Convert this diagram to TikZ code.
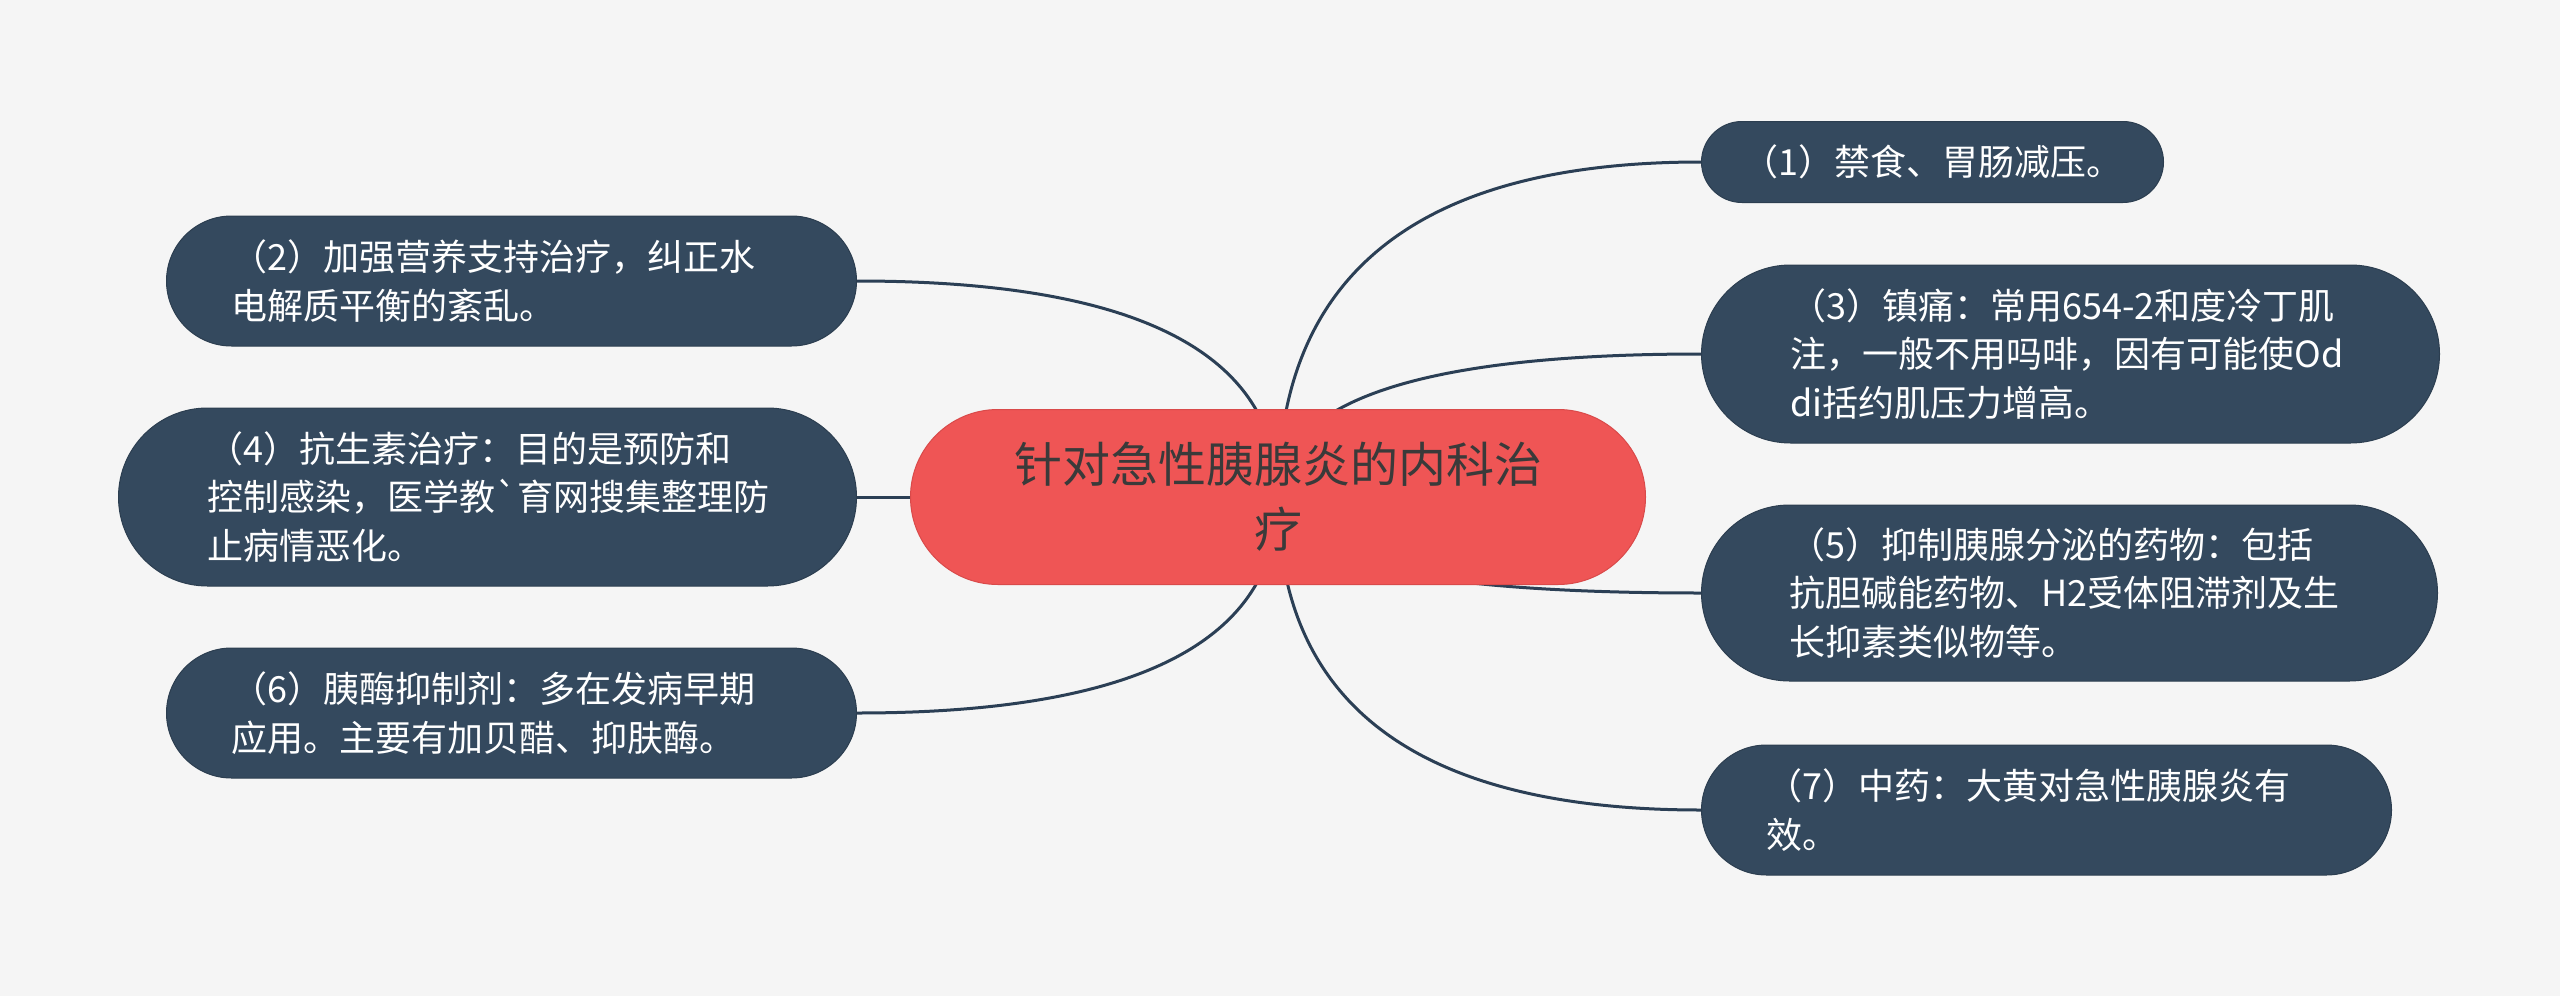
\documentclass[tikz,border=0pt]{standalone}
\usepackage{fontspec}
\newfontfamily\cjk{Noto Sans CJK SC}
\usetikzlibrary{calc,backgrounds}

\definecolor{bgcol}{HTML}{F5F5F5}
\definecolor{leafblue}{HTML}{34495E}
\definecolor{leafedge}{HTML}{2C3E50}
\definecolor{rootred}{HTML}{EF5555}
\definecolor{rootedge}{HTML}{D94A4A}
\definecolor{branchcol}{HTML}{2B3F55}
\definecolor{roottext}{HTML}{3A3A3A}

\tikzset{
  leaf/.style={draw=leafedge, line width=1pt, fill=leafblue, text=white,
    rounded corners=#1/2, minimum height=#1, minimum width=560+#1,
    align=left, inner sep=0pt, font=\cjk\fontsize{36}{48.5}\selectfont},
  wide/.style={text width=560pt},
  root/.style={draw=rootedge, line width=1pt, fill=rootred, text=roottext,
    rounded corners=87.5, minimum height=175, minimum width=735,
    text width=560pt, align=center, inner sep=0pt,
    font=\cjk\fontsize{48}{65}\selectfont},
  branch/.style={draw=branchcol, line width=3pt}
}

\begin{document}
\begin{tikzpicture}[x=1pt,y=-1pt]
\useasboundingbox (0,0) rectangle (2560,996);

% centre
\node[root] (c) at (1278,497) {针对急性胰腺炎的内科治\\疗};

% right side
\node[leaf=81, anchor=west, minimum width=462] (n1) at (1701,162) {（1）禁食、胃肠减压。};
\node[leaf=178, wide, anchor=west] (n3) at (1701,354) {（3）镇痛：常用654-2和度冷丁肌\\注，一般不用吗啡，因有可能使Od\\di括约肌压力增高。};
\node[leaf=176, wide, anchor=west] (n5) at (1701,593) {（5）抑制胰腺分泌的药物：包括\\抗胆碱能药物、H2受体阻滞剂及生\\长抑素类似物等。};
\node[leaf=130, wide, anchor=west] (n7) at (1701,810) {（7）中药：大黄对急性胰腺炎有\\效。};

% left side
\node[leaf=130, wide, anchor=east] (n2) at (857,281) {（2）加强营养支持治疗，纠正水\\电解质平衡的紊乱。};
\node[leaf=178, wide, anchor=east] (n4) at (857,497) {（4）抗生素治疗：目的是预防和\\控制感染，医学教\textasciigrave 育网搜集整理防\\止病情恶化。};
\node[leaf=130, wide, anchor=east] (n6) at (857,713) {（6）胰酶抑制剂：多在发病早期\\应用。主要有加贝醋、抑肤酶。};

\begin{scope}[on background layer]
\fill[bgcol] (0,0) rectangle (2560,996);
\foreach \n/\a in {n1/west,n2/east,n3/west,n5/west,n6/east,n7/west}
  \draw[branch] (c.center) .. controls ($(c.center)!2/3!(c.center |- \n.\a)$)
    and ($(\n.\a)!2/3!(c.center |- \n.\a)$) .. (\n.\a);
\draw[branch] (c.center) -- (n4.east);
\end{scope}
\end{tikzpicture}
\end{document}
